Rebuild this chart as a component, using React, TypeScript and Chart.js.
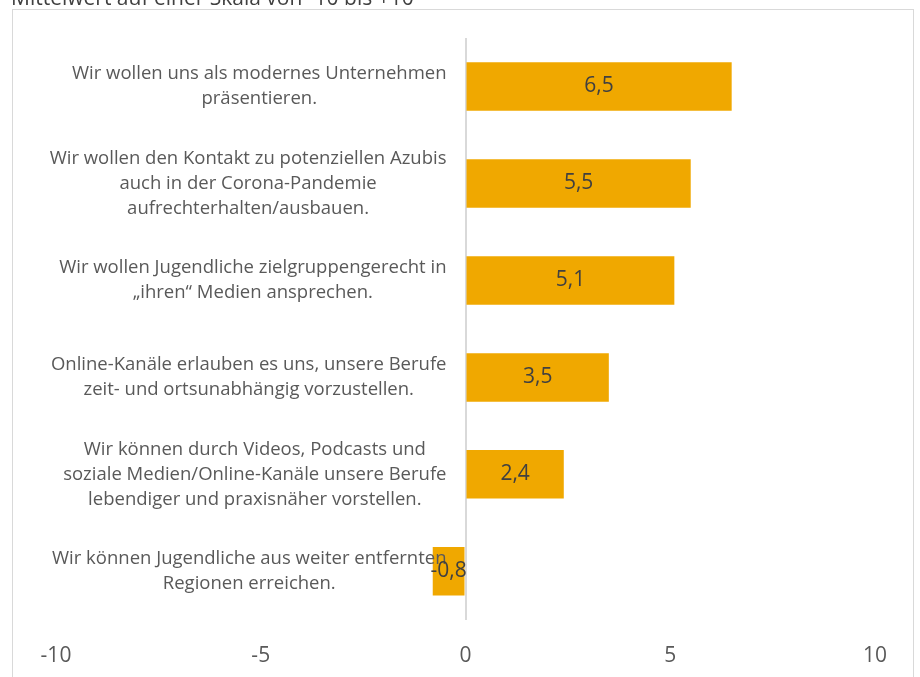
import React, { useEffect, useRef } from "react";
import { Chart, registerables } from "chart.js";

Chart.register(...registerables);

const titleText = "Mittelwert auf einer Skala von -10 bis +10";
const categories: string[][] = [
  ["Wir wollen uns als modernes Unternehmen", "präsentieren."],
  ["Wir wollen den Kontakt zu potenziellen Azubis", "auch in der Corona-Pandemie", "aufrechterhalten/ausbauen."],
  ["Wir wollen Jugendliche zielgruppengerecht in", "„ihren“ Medien ansprechen."],
  ["Online-Kanäle erlauben es uns, unsere Berufe", "zeit- und ortsunabhängig vorzustellen."],
  ["Wir können durch Videos, Podcasts und", "soziale Medien/Online-Kanäle unsere Berufe", "lebendiger und praxisnäher vorstellen."],
  ["Wir können Jugendliche aus weiter entfernten", "Regionen erreichen."],
];
const values: number[] = [6.5, 5.5, 5.1, 3.5, 2.4, -0.8];
const axisMin = -10;
const axisMax = 10;
const axisStep = 5;

const FONT = "'Open Sans'";
const TEXT = "#595959";
const DARK = "#404040";
const BAR = "#F0A800";
const LINE = "#D9D9D9";

const decor = {
  id: "decor",
  beforeDraw(chart: any) {
    const ctx = chart.ctx;
    ctx.save();
    ctx.strokeStyle = LINE;
    ctx.lineWidth = 1;
    ctx.strokeRect(12.5, 9.5, 901, 720);
    ctx.fillStyle = DARK;
    ctx.font = `21px ${FONT}`;
    ctx.textAlign = "left";
    ctx.textBaseline = "alphabetic";
    ctx.fillText(titleText, 11, 5);
    ctx.restore();
  },
  afterDatasetsDraw(chart: any) {
    const ctx = chart.ctx;
    const xs = chart.scales.x;
    const ys = chart.scales.y;
    const zero = xs.getPixelForValue(0);
    ctx.save();
    ctx.font = `18.5px ${FONT}`;
    ctx.fillStyle = TEXT;
    ctx.textAlign = "center";
    ctx.textBaseline = "middle";
    const lh = 25;
    categories.forEach((lines, i) => {
      const yc = ys.getPixelForTick(i);
      let w = 0;
      lines.forEach((l) => (w = Math.max(w, ctx.measureText(l).width)));
      const cx = zero - 19 - w / 2;
      const y0 = yc - ((lines.length - 1) * lh) / 2;
      lines.forEach((l, k) => ctx.fillText(l, cx, y0 + k * lh));
    });
    const meta = chart.getDatasetMeta(0);
    ctx.fillStyle = DARK;
    ctx.font = `21px ${FONT}`;
    meta.data.forEach((el: any, i: number) => {
      const p = el.getCenterPoint();
      ctx.fillText(values[i].toFixed(1).replace(".", ","), p.x, p.y);
    });
    ctx.restore();
  },
};

export default function App() {
  const ref = useRef<HTMLCanvasElement>(null);
  useEffect(() => {
    const chart = new Chart(ref.current!, {
      type: "bar",
      data: {
        labels: categories.map((c) => c.join(" ")),
        datasets: [
          {
            data: values,
            backgroundColor: BAR,
            borderWidth: 0,
            categoryPercentage: 1,
            barPercentage: 0.5,
          },
        ],
      },
      options: {
        indexAxis: "y",
        animation: false,
        responsive: true,
        maintainAspectRatio: false,
        layout: { padding: { left: 48, right: 45, top: 38, bottom: -16 } },
        plugins: { legend: { display: false }, tooltip: { enabled: false }, title: { display: false } },
        scales: {
          x: {
            min: axisMin,
            max: axisMax,
            ticks: {
              stepSize: axisStep,
              color: TEXT,
              font: { family: FONT, size: 21 },
              padding: 24,
              callback: (v: any) => String(v),
            },
            grid: {
              drawTicks: false,
              lineWidth: 2,
              color: (c: any) => (c.tick && c.tick.value === 0 ? LINE : "rgba(0,0,0,0)"),
            },
            border: { display: false },
          },
          y: {
            ticks: { display: false },
            grid: { display: false },
            border: { display: false },
          },
        },
      },
      plugins: [decor],
    });
    return () => chart.destroy();
  }, []);
  return (
    <div style={{ position: "fixed", left: 0, top: 0, width: 920, height: 677, background: "#fff" }}>
      <canvas ref={ref} />
    </div>
  );
}
